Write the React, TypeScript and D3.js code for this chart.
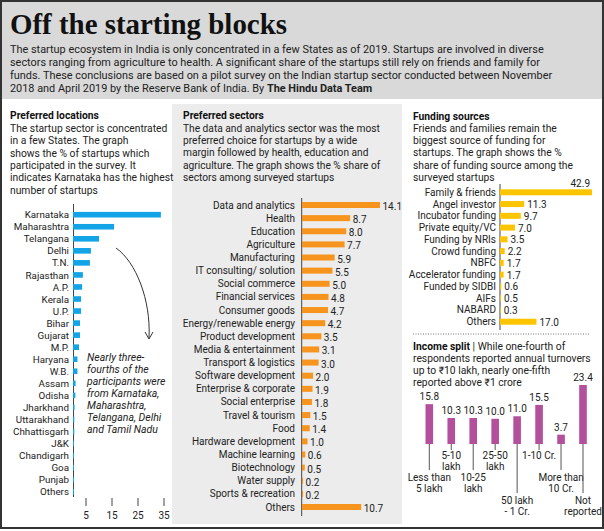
import React from "react";
import * as d3 from "d3";

const locations = ["Karnataka","Maharashtra","Telangana","Delhi","T.N.","Rajasthan","A.P.","Kerala","U.P.","Bihar","Gujarat","M.P.","Haryana","W.B.","Assam","Odisha","Jharkhand","Uttarakhand","Chhattisgarh","J&K","Chandigarh","Goa","Punjab","Others"];
const locationValues = [33.8,15.8,10,6.9,6.5,3.8,3.5,3.1,3.1,2.7,2.7,2.3,1.7,1.7,1.0,0.9,0.6,0.5,0.5,0.4,0.4,0.4,0.4,0.4];
const locationTicks = [5,15,25,35];

const sectors = ["Data and analytics","Health","Education","Agriculture","Manufacturing","IT consulting/ solution","Social commerce","Financial services","Consumer goods","Energy/renewable energy","Product development","Media & entertainment","Transport & logistics","Software development","Enterprise & corporate","Social enterprise","Travel & tourism","Food","Hardware development","Machine learning","Biotechnology","Water supply","Sports & recreation","Others"];
const sectorValues = [14.1,8.7,8.0,7.7,5.9,5.5,5.0,4.8,4.7,4.2,3.5,3.1,3.0,2.0,1.9,1.8,1.5,1.4,1.0,0.6,0.5,0.2,0.2,10.7];

const fundingSources = ["Family & friends","Angel investor","Incubator funding","Private equity/VC","Funding by NRIs","Crowd funding","NBFC","Accelerator funding","Funded by SIDBI","AIFs","NABARD","Others"];
const fundingValues = [42.9,11.3,9.7,7.0,3.5,2.2,1.7,1.7,0.6,0.5,0.3,17.0];

const incomeCategories = [["Less than","5 lakh"],["5-10","lakh"],["10-25","lakh"],["25-50","lakh"],["50 lakh","- 1 Cr."],["1-10 Cr."],["More than","10 Cr."],["Not","reported"]];
const incomeValues = [15.8,10.3,10.3,10.0,11.0,15.5,3.7,23.4];

const introLines = [
  "The startup ecosystem in India is only concentrated in a few States as of 2019. Startups are involved in diverse",
  "sectors ranging from agriculture to health. A significant share of the startups still rely on friends and family for",
  "funds. These conclusions are based on a pilot survey on the Indian startup sector conducted between November",
];
const introLast = "2018 and April 2019 by the Reserve Bank of India. By ";
const introByline = "The Hindu Data Team";

const locText = ["The startup sector is concentrated","in a few States. The graph","shows the % of startups which","participated in the survey. It","indicates Karnataka has the highest","number of startups"];
const secText = ["The data and analytics sector was the most","preferred choice for startups by a wide","margin followed by health, education and","agriculture. The graph shows the % share of","sectors among surveyed startups"];
const fundText = ["Friends and families remain the","biggest source of funding for","startups. The graph shows the %","share of funding source among the","surveyed startups"];
const incomeText = ["respondents reported annual turnovers","up to \u20b910 lakh, nearly one-fifth","reported above \u20b91 crore"];
const noteText = ["Nearly three-","fourths of the","participants were","from Karnataka,","Maharashtra,","Telangana, Delhi","and Tamil Nadu"];

const FONT = "Roboto, 'Noto Sans', sans-serif";
const TXT = "#222";

export default function App() {
  const locX = d3.scaleLinear().domain([0, 35]).range([73, 164]);
  const locY = d3.scalePoint<string>().domain(locations).range([214.7, 491.7]);
  const secX = d3.scaleLinear().domain([0, 14.1]).range([302, 380]);
  const secY = d3.scalePoint<string>().domain(sectors).range([205, 507]);
  const fundX = d3.scaleLinear().domain([0, 42.9]).range([500, 592]);
  const fundY = d3.scalePoint<string>().domain(fundingSources).range([192.3, 321.7]);
  const incX = d3.scalePoint<number>().domain(d3.range(incomeValues.length)).range([429.3, 583]);
  const incY = d3.scaleLinear().domain([0, 23.4]).range([444, 385]);
  const levels = [1, 0, 1, 0, 2, 0, 1, 2];
  const levelEnd = [450, 470, 493];
  const levelText = [456, 478, 501];

  return (
    <svg width={604} height={531} style={{ position: "absolute", left: 0, top: 0, background: "#fff" }} fontFamily={FONT}>
      <rect x={0} y={0} width={604} height={99} fill="#d9d9d9" />
      <rect x={172} y={104} width={230} height={420} fill="#ececec" />
      <rect x={1} y={1} width={602} height={527} fill="none" stroke="#333" strokeWidth={2} />
      <text x={10} y={34} fontFamily="'Liberation Serif', 'DejaVu Serif', serif" fontWeight={700} fontSize={30} fill="#111" textLength={277} lengthAdjust="spacingAndGlyphs">Off the starting blocks</text>
      {introLines.map((l, i) => (
        <text key={i} x={10} y={53 + i * 13} fontSize={10.9} fill={TXT}>{l}</text>
      ))}
      <text x={10} y={53 + 3 * 13} fontSize={10.9} fill={TXT}>{introLast}<tspan fontWeight={700}>{introByline}</tspan></text>

      {/* Left panel */}
      <text x={10} y={119} fontSize={10.3} fontWeight={700} fill="#111">Preferred locations</text>
      {locText.map((l, i) => (
        <text key={i} x={10} y={132 + i * 12.3} fontSize={10.3} fill={TXT}>{l}</text>
      ))}
      <line x1={73.5} x2={73.5} y1={204} y2={497} stroke="#444" strokeWidth={1} />
      {locations.map((c, i) => (
        <g key={c}>
          <rect x={locX(0)} y={locY(c)! - 2.8} width={locX(locationValues[i]) - locX(0)} height={5.6} fill="#12a4e6" />
          <text x={69} y={locY(c)! + 3.6} textAnchor="end" fontSize={9.8} fill={TXT}>{c}</text>
        </g>
      ))}
      {locationTicks.map((t) => (
        <g key={t}>
          <line x1={locX(t)} x2={locX(t)} y1={498} y2={506} stroke="#444" />
          <text x={locX(t)} y={519} textAnchor="middle" fontSize={10} fill={TXT}>{t}</text>
        </g>
      ))}
      <path d="M116,248 C136,262 151,300 149,338" fill="none" stroke="#333" strokeWidth={1} />
      <path d="M145,332 L149,339 L153,332" fill="none" stroke="#333" strokeWidth={1} />
      {noteText.map((l, i) => (
        <text key={i} x={87} y={360.5 + i * 12} fontSize={10.5} fontStyle="italic" fill={TXT}>{l}</text>
      ))}

      {/* Middle panel */}
      <text x={183} y={119} fontSize={10.3} fontWeight={700} fill="#111">Preferred sectors</text>
      {secText.map((l, i) => (
        <text key={i} x={183} y={132 + i * 12.2} fontSize={10.2} fill={TXT}>{l}</text>
      ))}
      <line x1={301.7} x2={301.7} y1={198} y2={516} stroke="#444" strokeWidth={1} />
      {sectors.map((c, i) => (
        <g key={c}>
          <rect x={secX(0)} y={secY(c)! - 3} width={secX(sectorValues[i]) - secX(0)} height={6} fill="#f7941d" />
          <text x={295} y={secY(c)! + 3.5} textAnchor="end" fontSize={10} fill={TXT}>{c}</text>
          <text x={secX(sectorValues[i]) + 2.5} y={secY(c)! + 5} fontSize={10} fill={TXT}>{sectorValues[i].toFixed(1)}</text>
        </g>
      ))}

      {/* Right panel: funding */}
      <text x={413} y={120} fontSize={10.3} fontWeight={700} fill="#111">Funding sources</text>
      {fundText.map((l, i) => (
        <text key={i} x={413} y={132 + i * 12.2} fontSize={10.3} fill={TXT}>{l}</text>
      ))}
      <line x1={500} x2={500} y1={184} y2={330} stroke="#444" strokeWidth={1} />
      {fundingSources.map((c, i) => (
        <g key={c}>
          <rect x={fundX(0)} y={fundY(c)! - 3} width={fundX(fundingValues[i]) - fundX(0)} height={6} fill="#fcc500" />
          <text x={496} y={fundY(c)! + 3.5} textAnchor="end" fontSize={10} fill={TXT}>{c}</text>
          {i === 0 ? (
            <text x={fundX(fundingValues[i]) - 2} y={fundY(c)! - 5} textAnchor="end" fontSize={10} fill={TXT}>{fundingValues[i].toFixed(1)}</text>
          ) : (
            <text x={fundX(fundingValues[i]) + 3} y={fundY(c)! + 4} fontSize={10} fill={TXT}>{fundingValues[i].toFixed(1)}</text>
          )}
        </g>
      ))}
      <line x1={413} x2={590} y1={334} y2={334} stroke="#777" strokeWidth={1} strokeDasharray="1,1.5" />

      {/* Income split */}
      <text x={413} y={349.5} fontSize={10.3} fill={TXT}><tspan fontWeight={700} fill="#111">Income split</tspan> | While one-fourth of</text>
      {incomeText.map((l, i) => (
        <text key={i} x={413} y={362 + i * 12} fontSize={10.3} fill={TXT}>{l}</text>
      ))}
      {incomeValues.map((v, i) => (
        <g key={i}>
          <line x1={incX(i)} x2={incX(i)} y1={444} y2={levelEnd[levels[i]]} stroke="#555" strokeWidth={1} />
          <rect x={incX(i)! - 3.8} y={incY(v)} width={7.6} height={incY(0) - incY(v)} fill="#b44f9c" />
          <text x={incX(i)} y={incY(v) - 4} textAnchor="middle" fontSize={10} fill={TXT}>{v.toFixed(1)}</text>
          {incomeCategories[i].map((l, j) => (
            <text key={j} x={incX(i)} y={levelText[levels[i]] + j * 10.5 + 3} textAnchor="middle" fontSize={10} fill={TXT}>{l}</text>
          ))}
        </g>
      ))}
    </svg>
  );
}
